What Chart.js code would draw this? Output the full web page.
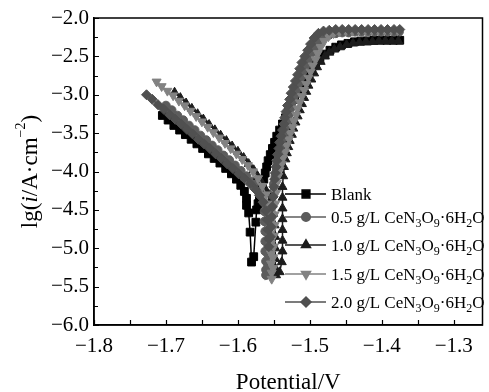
<!DOCTYPE html>
<html>
<head>
<meta charset="utf-8">
<script src="https://cdn.jsdelivr.net/npm/chart.js@4"></script>
<style>
  body { margin: 0; background: #fff; }
  canvas { display: block; }
</style>
</head>
<body>
<canvas id="chart" width="489" height="392"></canvas>
<script>
// Potentiodynamic polarization curves: potential (V) vs lg(i / A·cm^-2)
const labels = ['Blank', '0.5 g/L CeN3O9·6H2O', '1.0 g/L CeN3O9·6H2O', '1.5 g/L CeN3O9·6H2O', '2.0 g/L CeN3O9·6H2O'];

const blankE = [-1.705,-1.697,-1.689,-1.681,-1.673,-1.665,-1.657,-1.649,-1.641,-1.633,-1.625,-1.617,-1.609,-1.602,-1.596,-1.591,-1.588,
  -1.588,-1.585,-1.583,-1.581,-1.578,-1.575,-1.574,
  -1.572,-1.570,-1.568,-1.566,-1.564,-1.562,-1.560,-1.558,-1.555,-1.552,-1.549,-1.546,-1.542,-1.538,-1.534,-1.530,-1.526,-1.521,-1.517,-1.512,-1.508,-1.503,-1.498,-1.492,-1.486,-1.479,-1.472,-1.464,-1.456,-1.447,-1.438,-1.429,-1.420,-1.411,-1.402,-1.393,-1.384,-1.375];
const blankLgI = [-3.27,-3.33,-3.40,-3.46,-3.52,-3.58,-3.64,-3.70,-3.77,-3.83,-3.89,-3.96,-4.03,-4.10,-4.18,-4.26,-4.35,
  -4.44,-4.54,-4.79,-5.18,-5.11,-4.66,-4.50,
  -4.42,-4.34,-4.26,-4.18,-4.10,-4.02,-3.94,-3.86,-3.78,-3.70,-3.62,-3.54,-3.46,-3.38,-3.30,-3.22,-3.14,-3.06,-2.98,-2.90,-2.82,-2.74,-2.67,-2.60,-2.53,-2.47,-2.42,-2.38,-2.35,-2.33,-2.31,-2.30,-2.30,-2.29,-2.29,-2.29,-2.29,-2.29];

const ce05E = [-1.700,-1.692,-1.684,-1.676,-1.668,-1.660,-1.652,-1.644,-1.636,-1.628,-1.620,-1.612,-1.604,-1.596,-1.588,-1.580,-1.573,-1.567,-1.564,
  -1.563,-1.563,-1.562,-1.562,-1.562,-1.561,-1.561,-1.561,
  -1.558,-1.558,-1.557,-1.557,-1.556,-1.555,-1.554,-1.552,-1.550,
  -1.548,-1.546,-1.545,-1.543,-1.541,-1.539,-1.537,-1.535,-1.533,-1.531,-1.529,-1.527,-1.525,-1.522,-1.519,-1.516,-1.513,-1.510,-1.506,-1.502,-1.498,-1.493,-1.488,-1.481,-1.473,-1.464,-1.455,-1.446,-1.437,-1.428,-1.419,-1.410,-1.401,-1.392,-1.383,-1.376];
const ce05LgI = [-3.14,-3.20,-3.27,-3.33,-3.40,-3.46,-3.53,-3.59,-3.66,-3.72,-3.79,-3.85,-3.92,-3.99,-4.06,-4.13,-4.21,-4.30,-4.40,
  -4.52,-4.65,-4.78,-4.91,-5.04,-5.17,-5.28,-5.35,
  -5.22,-5.08,-4.94,-4.80,-4.66,-4.52,-4.40,-4.28,-4.16,
  -4.06,-3.98,-3.90,-3.82,-3.74,-3.66,-3.58,-3.50,-3.42,-3.34,-3.26,-3.18,-3.10,-3.02,-2.94,-2.86,-2.78,-2.70,-2.62,-2.54,-2.46,-2.38,-2.31,-2.25,-2.22,-2.20,-2.19,-2.19,-2.18,-2.18,-2.18,-2.18,-2.18,-2.18,-2.18,-2.18];

const ce10E = [-1.688,-1.680,-1.672,-1.664,-1.656,-1.648,-1.640,-1.632,-1.624,-1.616,-1.608,-1.600,-1.592,-1.585,-1.578,-1.572,-1.566,-1.560,-1.555,-1.551,
  -1.549,-1.548,-1.548,-1.548,-1.548,-1.547,-1.542,
  -1.539,-1.538,-1.538,-1.538,-1.538,-1.538,-1.538,-1.538,-1.537,-1.536,
  -1.534,-1.532,-1.530,-1.528,-1.525,-1.523,-1.520,-1.517,-1.514,-1.511,-1.508,-1.505,-1.502,-1.498,-1.494,-1.490,-1.485,-1.479,-1.473,-1.466,-1.458,-1.449,-1.440,-1.431,-1.422,-1.413,-1.404,-1.395,-1.386,-1.377];
const ce10LgI = [-2.97,-3.04,-3.11,-3.18,-3.25,-3.32,-3.39,-3.46,-3.53,-3.60,-3.67,-3.74,-3.82,-3.90,-3.98,-4.07,-4.16,-4.26,-4.40,-4.55,
  -4.70,-4.85,-5.00,-5.14,-5.26,-5.35,-5.31,
  -5.18,-5.04,-4.90,-4.76,-4.62,-4.48,-4.34,-4.20,-4.06,-3.94,
  -3.84,-3.76,-3.68,-3.60,-3.52,-3.44,-3.36,-3.28,-3.20,-3.12,-3.04,-2.96,-2.88,-2.80,-2.72,-2.64,-2.57,-2.50,-2.45,-2.41,-2.38,-2.35,-2.33,-2.32,-2.31,-2.31,-2.30,-2.30,-2.30,-2.30];

const ce15E = [-1.713,-1.706,-1.698,-1.690,-1.682,-1.674,-1.666,-1.658,-1.650,-1.642,-1.634,-1.626,-1.618,-1.610,-1.602,-1.594,-1.586,-1.579,-1.572,-1.566,-1.561,-1.558,
  -1.556,-1.555,-1.555,-1.554,-1.554,-1.554,-1.553,-1.553,
  -1.551,-1.551,-1.550,-1.550,-1.549,-1.549,-1.548,-1.547,-1.546,
  -1.544,-1.542,-1.539,-1.537,-1.534,-1.532,-1.529,-1.527,-1.524,-1.522,-1.519,-1.517,-1.514,-1.511,-1.508,-1.505,-1.502,-1.499,-1.496,-1.492,-1.489,-1.485,-1.480,-1.474,-1.467,-1.459,-1.450,-1.441,-1.432,-1.423,-1.414,-1.405,-1.396,-1.387,-1.378];
const ce15LgI = [-2.83,-2.89,-2.95,-3.01,-3.08,-3.14,-3.21,-3.28,-3.35,-3.42,-3.49,-3.56,-3.63,-3.70,-3.77,-3.84,-3.92,-4.00,-4.09,-4.19,-4.30,-4.42,
  -4.55,-4.68,-4.81,-4.94,-5.07,-5.20,-5.32,-5.40,
  -5.26,-5.12,-4.98,-4.84,-4.70,-4.56,-4.42,-4.28,-4.15,
  -4.06,-3.98,-3.90,-3.82,-3.74,-3.66,-3.58,-3.50,-3.42,-3.34,-3.26,-3.18,-3.10,-3.02,-2.94,-2.86,-2.78,-2.70,-2.62,-2.54,-2.46,-2.38,-2.30,-2.24,-2.20,-2.18,-2.17,-2.17,-2.16,-2.16,-2.16,-2.16,-2.16,-2.16,-2.16];

const ce20E = [-1.727,-1.719,-1.711,-1.703,-1.695,-1.687,-1.679,-1.671,-1.663,-1.655,-1.647,-1.639,-1.631,-1.623,-1.615,-1.607,-1.599,-1.591,-1.583,-1.576,-1.570,-1.565,-1.561,
  -1.559,-1.558,-1.557,-1.557,
  -1.555,-1.554,-1.553,-1.552,-1.551,-1.550,
  -1.549,-1.548,-1.547,-1.546,-1.545,-1.543,-1.542,-1.540,-1.538,-1.536,-1.535,-1.533,-1.531,-1.528,-1.526,-1.523,-1.520,-1.517,-1.514,-1.511,-1.507,-1.503,-1.499,-1.494,-1.488,-1.481,-1.473,-1.464,-1.455,-1.446,-1.437,-1.428,-1.419,-1.410,-1.401,-1.392,-1.383,-1.375];
const ce20LgI = [-3.00,-3.06,-3.13,-3.19,-3.26,-3.32,-3.38,-3.45,-3.51,-3.58,-3.64,-3.70,-3.77,-3.83,-3.90,-3.96,-4.03,-4.09,-4.16,-4.23,-4.31,-4.40,-4.51,
  -4.63,-4.76,-4.88,-4.98,
  -4.85,-4.72,-4.59,-4.46,-4.33,-4.20,
  -4.10,-4.02,-3.94,-3.86,-3.78,-3.70,-3.62,-3.54,-3.46,-3.38,-3.30,-3.22,-3.14,-3.06,-2.98,-2.90,-2.82,-2.74,-2.66,-2.58,-2.50,-2.42,-2.34,-2.26,-2.20,-2.17,-2.16,-2.15,-2.15,-2.15,-2.15,-2.15,-2.15,-2.15,-2.15,-2.15,-2.15,-2.15];

const xTicks = [-1.8,-1.75,-1.7,-1.65,-1.6,-1.55,-1.5,-1.45,-1.4,-1.35,-1.3];
const yTicks = [-6,-5.75,-5.5,-5.25,-5,-4.75,-4.5,-4.25,-4,-3.75,-3.5,-3.25,-3,-2.75,-2.5,-2.25,-2];

const FONT = "'Liberation Serif', 'Times New Roman', serif";

const series = [
  { e: blankE, lg: blankLgI, color: '#000000', style: 'rect', rot: 0, r: 5.5, order: 5 },
  { e: ce05E, lg: ce05LgI, color: '#5c5c5c', style: 'circle', rot: 0, r: 4.3, order: 4 },
  { e: ce10E, lg: ce10LgI, color: '#1c1c1c', style: 'triangle', rot: 0, r: 5.2, order: 3 },
  { e: ce15E, lg: ce15LgI, color: '#828282', style: 'triangle', rot: 180, r: 5.2, order: 2 },
  { e: ce20E, lg: ce20LgI, color: '#505050', style: 'rectRot', rot: 0, r: 5, order: 1 }
];

function fmt(v) {
  return (v < 0 ? '\u2212' : '') + Math.abs(v).toFixed(1);
}

const isMajor = (v, step) => Math.abs(v / step - Math.round(v / step)) < 1e-6;

// frame, inward ticks, legend with subscripts, y title with italic i
const decor = {
  id: 'decor',
  afterDraw(chart) {
    const { ctx, chartArea: a, scales: { x, y } } = chart;
    ctx.save();
    ctx.strokeStyle = '#000';
    ctx.lineWidth = 1.5;
    ctx.strokeRect(a.left, a.top, a.right - a.left, a.bottom - a.top);

    ctx.lineWidth = 1.2;
    ctx.beginPath();
    xTicks.forEach(v => {
      const px = Math.round(x.getPixelForValue(v)) + 0.5;
      ctx.moveTo(px, a.bottom);
      ctx.lineTo(px, a.bottom - 5);
    });
    yTicks.forEach(v => {
      const py = Math.round(y.getPixelForValue(v)) + 0.5;
      ctx.moveTo(a.left, py);
      ctx.lineTo(a.left + (isMajor(v, 0.5) ? 5 : 4), py);
    });
    ctx.stroke();

    // legend
    const rows = [194, 217, 245, 274, 302];
    series.forEach((s, i) => {
      const ly = rows[i];
      ctx.strokeStyle = s.color;
      ctx.fillStyle = s.color;
      ctx.lineWidth = 1.5;
      ctx.beginPath();
      ctx.moveTo(285, ly);
      ctx.lineTo(326, ly);
      ctx.stroke();
      Chart.helpers.drawPoint(ctx, { pointStyle: s.style, rotation: s.rot, radius: s.r, borderWidth: 1 }, 306, ly);

      // walk the label, lowering the digits that follow N, O and H
      ctx.fillStyle = '#000';
      ctx.textBaseline = 'alphabetic';
      ctx.textAlign = 'left';
      let tx = 331;
      const base = ly + 6;
      const text = labels[i];
      for (let k = 0; k < text.length; k++) {
        const ch = text[k];
        const sub = /\d/.test(ch) && /[NOH]/.test(text[k - 1] || '');
        ctx.font = (sub ? '12px ' : '17px ') + FONT;
        ctx.fillText(ch, tx, sub ? base + 4 : base);
        tx += ctx.measureText(ch).width;
      }
    });

    // y axis title
    ctx.translate(37, 171.5);
    ctx.rotate(-Math.PI / 2);
    const tparts = [
      { t: 'lg(', f: '23px ' + FONT, dy: 0 },
      { t: 'i', f: 'italic 23px ' + FONT, dy: 0 },
      { t: '/A\u00b7cm', f: '23px ' + FONT, dy: 0 },
      { t: '\u22122', f: '14px ' + FONT, dy: -12 },
      { t: ')', f: '23px ' + FONT, dy: 0 }
    ];
    let total = 0;
    tparts.forEach(p => { ctx.font = p.f; total += ctx.measureText(p.t).width; });
    let cx = -total / 2;
    ctx.fillStyle = '#000';
    tparts.forEach(p => {
      ctx.font = p.f;
      ctx.fillText(p.t, cx, p.dy);
      cx += ctx.measureText(p.t).width;
    });
    ctx.restore();
  }
};

new Chart(document.getElementById('chart'), {
  type: 'scatter',
  data: {
    datasets: series.map((s, i) => ({
      label: labels[i],
      data: s.e.map((e, k) => ({ x: e, y: s.lg[k] })),
      showLine: true,
      borderColor: s.color,
      backgroundColor: s.color,
      borderWidth: 1.5,
      pointStyle: s.style,
      rotation: s.rot,
      pointRadius: s.r,
      pointBorderWidth: 1,
      order: s.order
    }))
  },
  options: {
    responsive: false,
    animation: false,
    layout: { padding: { top: 18, right: 3, left: 0, bottom: 0 } },
    plugins: { legend: { display: false }, tooltip: { enabled: false } },
    scales: {
      x: {
        type: 'linear',
        min: -1.8,
        max: -1.26,
        afterBuildTicks: scale => { scale.ticks = xTicks.map(v => ({ value: v })); },
        afterFit: scale => { scale.height = 67; },
        grid: { display: false, drawTicks: false },
        border: { display: true, color: '#000', width: 1.5 },
        ticks: {
          padding: 9,
          color: '#000',
          font: { family: FONT, size: 21 },
          maxRotation: 0,
          autoSkip: false,
          callback: v => isMajor(v, 0.1) ? fmt(v) : ''
        },
        title: {
          display: true,
          text: 'Potential/V',
          color: '#000',
          font: { family: FONT, size: 23 },
          padding: { top: 0, bottom: -5 }
        }
      },
      y: {
        type: 'linear',
        min: -6,
        max: -2,
        afterBuildTicks: scale => { scale.ticks = yTicks.map(v => ({ value: v })); },
        afterFit: scale => { scale.width = 94; },
        grid: { display: false, drawTicks: false },
        border: { display: true, color: '#000', width: 1.5 },
        ticks: {
          padding: 5,
          color: '#000',
          font: { family: FONT, size: 21 },
          autoSkip: false,
          callback: v => isMajor(v, 0.5) ? fmt(v) : ''
        }
      }
    }
  },
  plugins: [decor]
});
</script>
</body>
</html>
